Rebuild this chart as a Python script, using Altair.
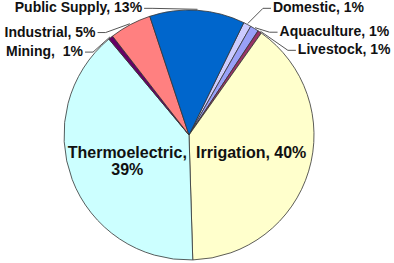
import math
import altair as alt
import pandas as pd

# ---- data ----
categories = ["Domestic", "Aquaculture", "Livestock", "Irrigation",
              "Thermoelectric", "Mining", "Industrial", "Public Supply"]
shares = [1.0, 1.1, 0.5, 39.7, 39.4, 0.6, 5.4, 12.3]
pct_labels = ["1%", "1%", "1%", "40%", "39%", "1%", "5%", "13%"]
label_texts = ["Domestic, 1%", "Aquaculture, 1%", "Livestock, 1%",
               "Irrigation, 40%", "Thermoelectric,\n39%",
               "Mining,\u00a0 1%", "Industrial, 5%", "Public Supply, 13%"]

# ---- styles / layout ----
colors = ["#CCCCFF", "#99A0F8", "#993366", "#FFFFCC",
          "#CCFFFF", "#660066", "#FF8080", "#0066CC"]
W, H = 378, 256
PAD = {"left": 0, "top": 7, "right": 16, "bottom": 0}
CX, CY = W / 2, H / 2
R_PIE = 125
START = math.radians(26)
FONT = "Liberation Sans"
TEXT_COLOR = "#111111"

inner_style = {
    "Irrigation": dict(radius=65, dx=0, dy=-1, lh=17),
    "Thermoelectric": dict(radius=66, dx=0, dy=-5, lh=17),
}
R_OUT = 150
outer_style = {
    "Public Supply": dict(dx=-57, dy=23, align="right"),
    "Industrial": dict(dx=-23, dy=30, align="right"),
    "Mining": dict(dx=-12, dy=34, align="right"),
    "Domestic": dict(dx=14, dy=6, align="left"),
    "Aquaculture": dict(dx=12, dy=25, align="left"),
    "Livestock": dict(dx=24, dy=39, align="left"),
}

df = pd.DataFrame({
    "category": categories,
    "share": shares,
    "pct": pct_labels,
    "label": label_texts,
    "idx": list(range(len(categories))),
})

theta_scale = alt.Scale(range=[START, START + 2 * math.pi])

pie = alt.Chart(df).mark_arc(
    outerRadius=R_PIE, stroke="#333333", strokeWidth=0.8
).encode(
    theta=alt.Theta("share:Q", stack=True, scale=theta_scale),
    order=alt.Order("idx:Q"),
    color=alt.Color("category:N",
                    scale=alt.Scale(domain=categories, range=colors),
                    legend=None),
)

# label base: mid-angle of each slice computed from the cumulative shares
lbl = alt.Chart(df).transform_window(
    cum="sum(share)", sort=[alt.SortField("idx")], frame=[None, 0]
).transform_calculate(
    mid="datum.cum - datum.share / 2"
).encode(
    theta=alt.Theta("mid:Q", stack=None, scale=theta_scale),
    text="label:N",
    color=alt.value(TEXT_COLOR),
)

layers = [pie]

for name, st in inner_style.items():
    layers.append(
        lbl.transform_filter(alt.datum.category == name).mark_text(
            radius=st["radius"], dx=st["dx"], dy=st["dy"], font=FONT,
            fontSize=16, fontWeight="bold",
            align="center", baseline="middle", lineBreak="\n",
            lineHeight=st["lh"],
        )
    )

for name, st in outer_style.items():
    layers.append(
        lbl.transform_filter(alt.datum.category == name).mark_text(
            radius=R_OUT, dx=st["dx"], dy=st["dy"], font=FONT,
            fontSize=14, fontWeight="bold",
            align=st["align"], baseline="middle",
        )
    )

# ---- leader lines: derived from the shares (mid-angles) and label offsets ----
total = sum(shares)
cum = 0.0
rows = []
for name, s in zip(categories, shares):
    mid = START + 2 * math.pi * (cum + s / 2) / total
    cum += s
    if name not in outer_style:
        continue
    st = outer_style[name]
    ax = CX + R_OUT * math.sin(mid) + st["dx"]
    ay = CY - R_OUT * math.cos(mid) + st["dy"]
    sgn = -1 if st["align"] == "left" else 1
    ex = CX + (R_PIE + 1) * math.sin(mid)
    ey = CY - (R_PIE + 1) * math.cos(mid)
    rows.append(dict(category=name, k=0, px=ax + sgn * 2, py=ay))
    rows.append(dict(category=name, k=1, px=ax + sgn * 10, py=ay))
    rows.append(dict(category=name, k=2, px=ex, py=ey))
leaders = pd.DataFrame(rows)

leader_lines = alt.Chart(leaders).mark_line(
    color="#555555", strokeWidth=1
).encode(
    x=alt.X("px:Q", scale=None),
    y=alt.Y("py:Q", scale=None),
    detail="category:N",
    order="k:Q",
)
layers.append(leader_lines)

chart = alt.layer(*layers).properties(
    width=W, height=H, padding=PAD, autosize="none",
    background="white",
).configure_view(stroke=None)

chart.save("out.html", embed_options={"renderer": "svg", "actions": False})
